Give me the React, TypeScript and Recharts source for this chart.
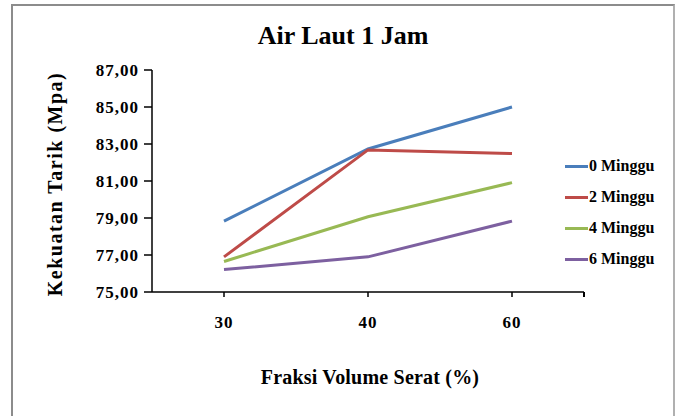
import React from 'react';
import { LineChart, Line, XAxis, YAxis } from 'recharts';

const categories = ['30', '40', '60'];
const minggu0 = [78.83, 82.73, 85.0];
const minggu2 = [76.9, 82.68, 82.48];
const minggu4 = [76.65, 79.07, 80.91];
const minggu6 = [76.21, 76.9, 78.83];
const yTicks = [75, 77, 79, 81, 83, 85, 87];

const seriesNames = ['0 Minggu', '2 Minggu', '4 Minggu', '6 Minggu'];
const seriesColors = ['#4a7ebb', '#be4b48', '#98b954', '#7d60a0'];

const data = categories.map((c, i) => ({
  name: c,
  m0: minggu0[i],
  m2: minggu2[i],
  m4: minggu4[i],
  m6: minggu6[i],
}));

const serif = '"Liberation Serif", "Times New Roman", serif';
const tickStyle = { fontSize: 17, fontWeight: 700, fill: '#000', fontFamily: serif, letterSpacing: 1 };

export default function App() {
  return (
    <div style={{ position: 'absolute', left: 0, top: 0, width: 680, height: 416, overflow: 'hidden', background: '#fff', fontFamily: serif }}>
      <div style={{ position: 'absolute', left: 11, top: 4, width: 660, height: 440, border: '2px solid #8c8c8c', borderRightColor: '#b0b0b0' }} />
      <div style={{ position: 'absolute', left: 0, top: 0 }}>
        <LineChart width={680} height={416} data={data} margin={{ top: 70, right: 96, left: 82, bottom: 94 }}>
          <XAxis
            dataKey="name"
            padding={{ left: 72, right: 72 }}
            axisLine={{ stroke: '#000', strokeWidth: 1.5 }}
            tickLine={{ stroke: '#000', strokeWidth: 1.5 }}
            tickSize={5}
            tickMargin={19}
            tick={tickStyle}
            height={30}
          />
          <YAxis
            domain={[75, 87]}
            ticks={yTicks}
            interval={0}
            tickFormatter={(v: number) => v.toFixed(2).replace('.', ',')}
            axisLine={{ stroke: '#000', strokeWidth: 1.5 }}
            tickLine={{ stroke: '#000', strokeWidth: 1.5 }}
            tickSize={8}
            tickMargin={5}
            tick={tickStyle}
            width={70}
          />
          <Line dataKey="m0" stroke={seriesColors[0]} strokeWidth={3} dot={false} isAnimationActive={false} />
          <Line dataKey="m2" stroke={seriesColors[1]} strokeWidth={3} dot={false} isAnimationActive={false} />
          <Line dataKey="m4" stroke={seriesColors[2]} strokeWidth={3} dot={false} isAnimationActive={false} />
          <Line dataKey="m6" stroke={seriesColors[3]} strokeWidth={3} dot={false} isAnimationActive={false} />
        </LineChart>
      </div>
      {/* closing tick at the right end of the category axis */}
      <div style={{ position: 'absolute', left: 583, top: 292, width: 1.5, height: 5, background: '#000' }} />
      <div style={{ position: 'absolute', left: 343, top: 36, transform: 'translate(-50%, -50%)', fontSize: 26, fontWeight: 700, whiteSpace: 'nowrap' }}>
        Air Laut 1 Jam
      </div>
      <div style={{ position: 'absolute', left: 55, top: 184, transform: 'translate(-50%, -50%) rotate(-90deg)', fontSize: 20, fontWeight: 700, whiteSpace: 'nowrap', letterSpacing: 1.5 }}>
        Kekuatan Tarik (Mpa)
      </div>
      <div style={{ position: 'absolute', left: 370, top: 377, transform: 'translate(-50%, -50%)', fontSize: 20, fontWeight: 700, whiteSpace: 'nowrap', letterSpacing: 0.2 }}>
        Fraksi Volume Serat (%)
      </div>
      {seriesNames.map((n, i) => (
        <div key={n} style={{ position: 'absolute', left: 565, top: 166 + i * 31, transform: 'translateY(-50%)', display: 'flex', alignItems: 'center', whiteSpace: 'nowrap' }}>
          <div style={{ width: 23, height: 3, background: seriesColors[i], marginRight: 1 }} />
          <span style={{ fontSize: 16, fontWeight: 700 }}>{n}</span>
        </div>
      ))}
    </div>
  );
}
